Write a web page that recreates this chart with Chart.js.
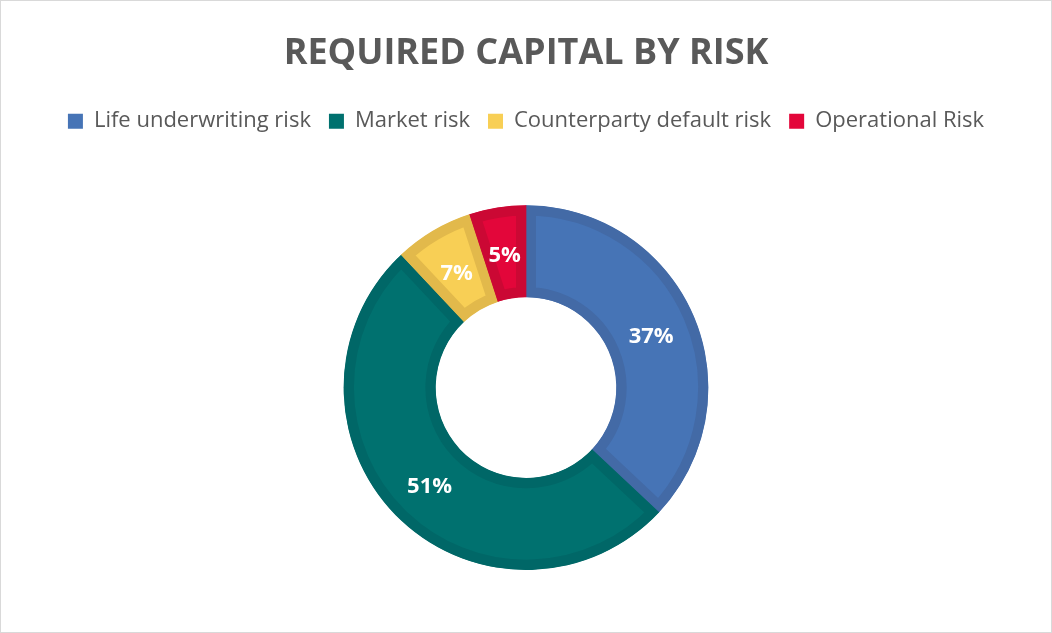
<!DOCTYPE html>
<html>
<head>
<meta charset="utf-8">
<script src="https://cdn.jsdelivr.net/npm/chart.js@4.4.0/dist/chart.umd.min.js"></script>
<style>
  html, body { margin: 0; padding: 0; background: #fff; }
  #wrap { width: 1050px; height: 631px; border: 1px solid #d9d9d9; position: relative; }
</style>
</head>
<body>
<div id="wrap"><canvas id="myChart"></canvas></div>
<script>
var labels = ["Life underwriting risk", "Market risk", "Counterparty default risk", "Operational Risk"];
var shares = [37, 51, 7, 5];
var fills = ["#4674B6", "#00716F", "#F8CF55", "#E3063A"];
var edges = ["#436AA6", "#006767", "#E2B94B", "#CB0834"];

// white % labels in the middle of each slice
var sliceLabels = {
  id: 'sliceLabels',
  afterDatasetsDraw: function(chart) {
    var ctx = chart.ctx;
    var meta = chart.getDatasetMeta(0);
    ctx.save();
    ctx.fillStyle = '#ffffff';
    ctx.font = 'bold 22px "Open Sans"';
    ctx.textAlign = 'center';
    ctx.textBaseline = 'middle';
    meta.data.forEach(function(arc, i) {
      var p = arc.tooltipPosition();
      ctx.fillText(shares[i] + '%', p.x, p.y + 3);
    });
    ctx.restore();
  }
};

// extra room under the legend
var legendGap = {
  id: 'legendGap',
  beforeInit: function(chart) {
    var fit = chart.legend.fit;
    chart.legend.fit = function() {
      fit.bind(chart.legend)();
      this.height += 63;
    };
  }
};

var ctx = document.getElementById("myChart");
var chart = new Chart(ctx, {
  type: 'doughnut',
  data: {
    labels: labels,
    datasets: [{
      data: shares,
      backgroundColor: fills,
      borderColor: edges,
      borderWidth: 10,
      borderAlign: 'inner',
      hoverOffset: 0
    }]
  },
  options: {
    responsive: true,
    maintainAspectRatio: false,
    animation: false,
    cutout: '49.5%',
    layout: { padding: { top: 0, bottom: 62 } },
    plugins: {
      title: {
        display: true,
        text: 'REQUIRED CAPITAL BY RISK',
        color: '#595959',
        font: { family: '"Open Sans"', size: 36, weight: 'bold' },
        padding: { top: 31, bottom: 17 }
      },
      legend: {
        position: 'top',
        labels: {
          color: '#595959',
          font: { family: '"Open Sans"', size: 22 },
          boxWidth: 15,
          boxHeight: 15,
          padding: 18,
          generateLabels: function(chart) {
            var items = Chart.overrides.doughnut.plugins.legend.labels.generateLabels(chart);
            items.forEach(function(it, i) {
              it.lineWidth = 0;
              it.strokeStyle = fills[i];
            });
            return items;
          }
        }
      },
      tooltip: { enabled: false }
    }
  },
  plugins: [sliceLabels, legendGap]
});
</script>
</body>
</html>
